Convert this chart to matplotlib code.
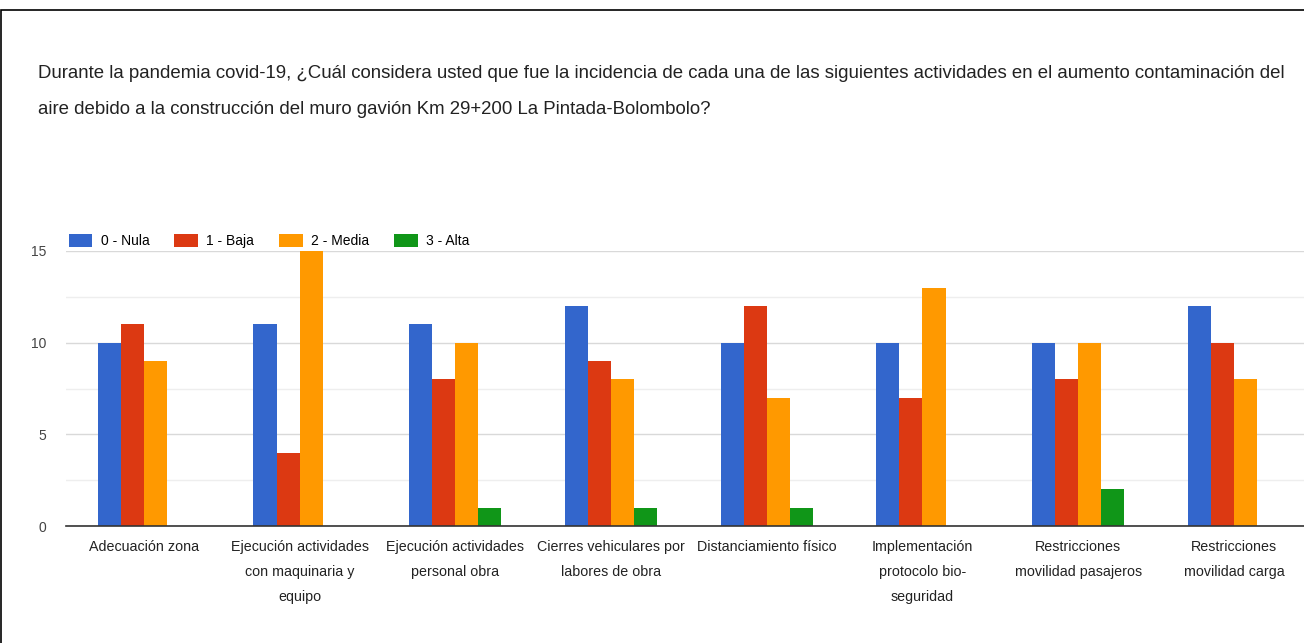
import numpy as np
import matplotlib
matplotlib.use("Agg")
import matplotlib.pyplot as plt
from matplotlib.patches import Rectangle

categories = [
    "Adecuación zona",
    "Ejecución actividades\ncon maquinaria y\nequipo",
    "Ejecución actividades\npersonal obra",
    "Cierres vehiculares por\nlabores de obra",
    "Distanciamiento físico",
    "Implementación\nprotocolo bio-\nseguridad",
    "Restricciones\nmovilidad pasajeros",
    "Restricciones\nmovilidad carga",
]
series_names = ["0 - Nula", "1 - Baja", "2 - Media", "3 - Alta"]
nula = [10, 11, 11, 12, 10, 10, 10, 12]
baja = [11, 4, 8, 9, 12, 7, 8, 10]
media = [9, 15, 10, 8, 7, 13, 10, 8]
alta = [0, 0, 1, 1, 1, 0, 2, 0]
colors = ["#3366CC", "#DC3912", "#FF9900", "#109618"]

title = ("Durante la pandemia covid-19, ¿Cuál considera usted que fue la incidencia de cada una de las siguientes actividades en el aumento contaminación del\n"
         "aire debido a la construcción del muro gavión Km 29+200 La Pintada-Bolombolo?")

plt.rcParams['font.family'] = ['Liberation Sans', 'DejaVu Sans']

fig = plt.figure(figsize=(13.04, 6.43), dpi=100)
ax = fig.add_axes([66 / 1304, 1 - 526 / 643, (1304 - 66) / 1304, 275 / 643])

x = np.arange(len(categories))
w = 0.148
for i, (vals, c, name) in enumerate(zip([nula, baja, media, alta], colors, series_names)):
    ax.bar(x - 1.5 * w + i * w, vals, width=w, color=c, label=name, zorder=3)

ax.set_xlim(-0.5, len(categories) - 0.55)
ax.set_ylim(0, 15)
ax.set_yticks([0, 5, 10, 15])
ax.set_yticks([2.5, 7.5, 12.5], minor=True)
ax.grid(axis="y", which="major", color="#d9d9d9", lw=1, zorder=0)
ax.grid(axis="y", which="minor", color="#eeeeee", lw=1, zorder=0)
ax.tick_params(axis="y", which="both", length=0, labelsize=10, colors="#444444", pad=14)
ax.set_xticks(x)
ax.set_xticklabels(categories, fontsize=10.3, color="#222222", linespacing=2.0, va="top")
ax.tick_params(axis="x", length=0, pad=10)
for s in ["top", "right", "left"]:
    ax.spines[s].set_visible(False)
ax.spines["bottom"].set_color("#333333")
ax.spines["bottom"].set_linewidth(1.2)
ax.spines["bottom"].set_zorder(4)

ax.legend(loc="lower left", bbox_to_anchor=(0.0, 1.0), ncol=4, frameon=False,
          fontsize=10, handlelength=1.7, handleheight=1.0, columnspacing=1.8,
          handletextpad=0.6, borderaxespad=0.2, borderpad=0.0)

fig.text(38 / 1304, 1 - 65 / 643, title, fontsize=13.4, color="#222222",
         va="top", ha="left", linespacing=2.45)

fig.patches.append(Rectangle((0.0008, -0.01), 1.01, 1 - 10 / 643 + 0.01,
                             transform=fig.transFigure, fill=False,
                             edgecolor="black", lw=1.2))

fig.savefig("out.png", dpi=100)
